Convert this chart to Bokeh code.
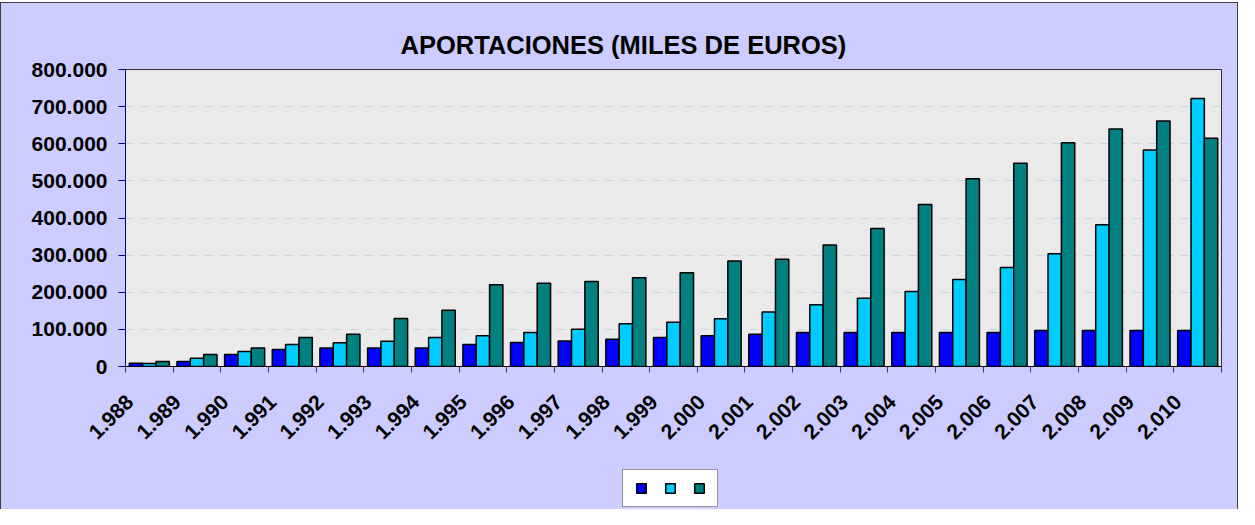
import math
from bokeh.plotting import figure
from bokeh.layouts import column
from bokeh.models import ColumnDataSource, FixedTicker, Legend, LegendItem
from bokeh.transform import dodge
from bokeh.embed import file_html
from bokeh.resources import INLINE

years = ["1.988", "1.989", "1.990", "1.991", "1.992", "1.993", "1.994", "1.995",
         "1.996", "1.997", "1.998", "1.999", "2.000", "2.001", "2.002", "2.003",
         "2.004", "2.005", "2.006", "2.007", "2.008", "2.009", "2.010"]

serie_1 = [9000, 13500, 32000, 46000, 50000, 50000, 50000, 59000,
           64500, 69000, 73500, 78000, 82500, 87000, 91500, 91500,
           91500, 91500, 91500, 97000, 97000, 97000, 97000]

serie_2 = [8000, 22500, 40500, 59000, 64000, 68000, 78000, 82500,
           91500, 100500, 115000, 119500, 128500, 146500, 166000, 184000,
           202000, 234500, 266500, 303500, 381500, 583500, 722000]

serie_3 = [13500, 32000, 50000, 78000, 87000, 129000, 151500, 220500,
           224500, 229000, 239000, 252500, 284500, 289000, 327000, 372000,
           436500, 505500, 547500, 602500, 639500, 661500, 615000]

y_ticks = [0, 100000, 200000, 300000, 400000, 500000, 600000, 700000, 800000]
y_tick_labels = ["0", "100.000", "200.000", "300.000", "400.000",
                 "500.000", "600.000", "700.000", "800.000"]

title_text = "APORTACIONES (MILES DE EUROS)"

colors = ["#0000FF", "#00CCFF", "#008080"]
BG = "#CCCCFF"
EDGE = "1px solid #404040"
FONT = "Liberation Sans"

n = len(years)
src = ColumnDataSource(data=dict(
    pos=[i + 0.5 for i in range(n)],
    s1=serie_1, s2=serie_2, s3=serie_3,
))
keys = ["s1", "s2", "s3"]
bw = 0.28

p = figure(width=1236, height=449, x_range=(0, n), y_range=(0, 800000),
           output_backend="svg", toolbar_location=None,
           background_fill_color="#EAEAEA", border_fill_color=BG,
           min_border_left=124, min_border_right=16,
           min_border_top=66, min_border_bottom=86)

p.outline_line_color = "#303030"
p.outline_line_width = 1

for k, key in enumerate(keys):
    p.vbar(x=dodge("pos", (k - 1) * bw, range=p.x_range), top=key, width=bw,
           source=src, fill_color=colors[k], line_color="#000000", line_width=1.5)

# title
p.title.text = title_text
p.title.align = "left"
p.title.offset = 275
p.title.text_font = FONT
p.title.text_font_style = "bold"
p.title.text_font_size = "25.5px"
p.title.text_color = "#000000"
p.title.standoff = 22

# y axis
yax = p.yaxis[0]
yax.ticker = FixedTicker(ticks=y_ticks)
yax.major_label_overrides = {t: l for t, l in zip(y_ticks, y_tick_labels)}
yax.major_label_text_font = FONT
yax.major_label_text_font_style = "bold"
yax.major_label_text_font_size = "21px"
yax.major_label_text_color = "#000000"
yax.major_tick_out = 7
yax.major_tick_in = 0
yax.minor_tick_out = 0
yax.minor_tick_in = 0
yax.major_label_standoff = 11
yax.axis_line_color = "#000080"
yax.major_tick_line_color = "#000080"

# x axis: tick marks between categories, labels near centres
label_shift = 0.41
label_pos = [i + 0.5 - label_shift for i in range(n)]
xax = p.xaxis[0]
xax.ticker = FixedTicker(ticks=label_pos, minor_ticks=list(range(n + 1)))
xax.major_label_overrides = {t: l for t, l in zip(label_pos, years)}
xax.major_label_orientation = math.pi / 4
xax.major_label_text_font = FONT
xax.major_label_text_font_style = "bold"
xax.major_label_text_font_size = "21px"
xax.major_label_text_color = "#000000"
xax.major_tick_out = 0
xax.major_tick_in = 0
xax.minor_tick_out = 6
xax.minor_tick_in = 0
xax.minor_tick_line_color = "#404040"
xax.axis_line_color = "#000000"
xax.major_label_standoff = 26

p.xgrid.visible = False
p.ygrid.ticker = FixedTicker(ticks=y_ticks)
p.ygrid.grid_line_color = "#C5D8DC"
p.ygrid.grid_line_dash = "8 8"

# legend strip (lower part of the chart area); its bars are hidden
q = figure(width=1236, height=57, x_range=(-100, -99), y_range=(-2, -1), title=None,
           output_backend="svg", toolbar_location=None,
           x_axis_location=None, y_axis_location=None,
           background_fill_color=BG, border_fill_color=BG,
           min_border=0)
q.outline_line_color = None
q.grid.visible = False
items = []
for k, key in enumerate(keys):
    r = q.vbar(x="pos", top=key, width=bw, source=src, fill_color=colors[k],
               line_color="#000000", line_width=1.5)
    r.visible = False
    items.append(LegendItem(label=" ", renderers=[r]))
legend = Legend(items=items, orientation="horizontal", location=(497, 2),
                background_fill_color="#FFFFFF", background_fill_alpha=1.0,
                border_line_color="#303030", border_line_width=1,
                inactive_fill_alpha=0.0,
                glyph_width=12, glyph_height=12, label_width=0, label_height=12,
                label_standoff=0, label_text_font_size="1px",
                spacing=17, padding=12, margin=0)
q.add_layout(legend, "center")

layout = column(p, q, spacing=0,
                styles={"margin-top": "2px", "background-color": BG,
                        "border-top": EDGE, "border-left": EDGE,
                        "border-right": EDGE})

open("out.html", "w").write(file_html(layout, INLINE))
